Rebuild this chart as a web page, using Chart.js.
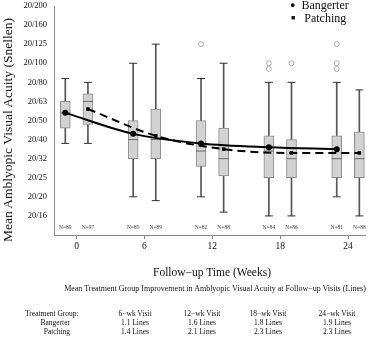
<!DOCTYPE html>
<html>
<head>
<meta charset="utf-8">
<script src="https://cdn.jsdelivr.net/npm/chart.js@4/dist/chart.umd.min.js"></script>
<style>
  body { margin: 0; background: #fff; }
  #wrap { position: relative; width: 371px; height: 337px; font-family: "Liberation Serif", "Times New Roman", serif; color: #111; }
  #wrap div { position: absolute; white-space: nowrap; }
  #table { left: 0; top: 0; }
  .c { transform: translate(-50%, -50%); }
  .r { transform: translate(-100%, -50%); }
  .l { transform: translate(0, -50%); }
  .tbl { font-size: 7.5px; }
</style>
</head>
<body>
<div id="wrap">
  <canvas id="home-chart" width="371" height="337"></canvas>

  <div class="c" style="left:8px;top:130px;font-size:13.5px;transform:translate(-50%,-50%) rotate(-90deg);">Mean Amblyopic Visual Acuity (Snellen)</div>

  <div style="left:290px;top:-2px;font-size:12px;"><span style="font-size:9px;position:relative;top:-1px;">●</span>&nbsp;&nbsp;Bangerter</div>
  <div style="left:291px;top:11px;font-size:12px;"><span style="font-size:7px;position:relative;top:-2px;">■</span>&nbsp;&nbsp;&nbsp;Patching</div>

  <div class="c" style="left:212px;top:272px;font-size:11.5px;">Follow−up Time (Weeks)</div>
  <div class="c" style="left:215px;top:288px;font-size:8px;">Mean Treatment Group Improvement in Amblyopic Visual Acuity at Follow−up Visits (Lines)</div>

  <div id="table"></div>
</div>

<script>
const home_chart = document.getElementById("home-chart");

// weeks of the visits
const weeks = [0, 6, 12, 18, 24];

// y axis: logMAR values and their Snellen labels
const logmarTicks = [-0.1, 0, 0.1, 0.2, 0.3, 0.4, 0.5, 0.6, 0.7, 0.8, 0.9, 1.0];
const snellenLabels = ['20/16', '20/20', '20/25', '20/32', '20/40', '20/50', '20/63', '20/80', '20/100', '20/125', '20/160', '20/200'];

// Bangerter box stats (logMAR)
const bangLow  = [0.28, 0.00, 0.00, -0.10, 0.00];
const bangQ1   = [0.36, 0.20, 0.16, 0.10, 0.10];
const bangMed  = [0.44, 0.30, 0.24, 0.24, 0.20];
const bangQ3   = [0.50, 0.40, 0.40, 0.32, 0.32];
const bangHigh = [0.62, 0.70, 0.62, 0.60, 0.60];
const bangMean = [0.44, 0.33, 0.28, 0.26, 0.25];
const bangN    = [89, 85, 82, 84, 81];
const bangOut  = [[], [], [0.80], [0.70, 0.67], [0.80, 0.70, 0.67]];

// Patching box stats (logMAR)
const patchLow  = [0.28, -0.02, -0.08, -0.10, -0.10];
const patchQ1   = [0.38, 0.20, 0.11, 0.10, 0.10];
const patchMed  = [0.50, 0.30, 0.20, 0.20, 0.20];
const patchQ3   = [0.54, 0.46, 0.36, 0.30, 0.34];
const patchHigh = [0.60, 0.80, 0.70, 0.60, 0.56];
const patchMean = [0.46, 0.32, 0.25, 0.23, 0.23];
const patchN    = [97, 89, 88, 86, 88];
const patchOut  = [[], [], [], [0.70], []];

// table under the chart
const visitLabels = ['6−wk Visit', '12−wk Visit', '18−wk Visit', '24−wk Visit'];
const bangLines  = ['1.1 Lines', '1.6 Lines', '1.8 Lines', '1.9 Lines'];
const patchLines = ['1.4 Lines', '2.1 Lines', '2.3 Lines', '2.3 Lines'];

const shift = 1; // weeks each group is moved off the visit week

function groupSets(name, off, low, q1, med, q3, high, mean, outl, isBang){
    let xs = weeks.map(w => w + off);
    let sets = [];
    sets.push({
        type: 'bar', label: name + ' whisker', order: 4,
        data: xs.map((x, i) => ({x: x, y: [low[i], high[i]]})),
        backgroundColor: '#555', barThickness: 1, grouped: false
    });
    sets.push({
        type: 'scatter', label: name + ' caps', order: 3,
        data: xs.flatMap((x, i) => [{x: x, y: low[i]}, {x: x, y: high[i]}]),
        pointStyle: 'line', pointRadius: 4, borderColor: '#333', borderWidth: 1
    });
    sets.push({
        type: 'bar', label: name + ' box', order: 2,
        data: xs.map((x, i) => ({x: x, y: [q1[i], q3[i]]})),
        backgroundColor: '#d2d2d2', borderColor: '#8a8a8a', borderWidth: 1,
        borderSkipped: false, barThickness: 10, grouped: false
    });
    sets.push({
        type: 'scatter', label: name + ' median', order: 1,
        data: xs.map((x, i) => ({x: x, y: med[i]})),
        pointStyle: 'line', pointRadius: 5, borderColor: '#666', borderWidth: 1
    });
    sets.push({
        type: 'scatter', label: name + ' outliers', order: 1,
        data: xs.flatMap((x, i) => outl[i].map(v => ({x: x, y: v}))),
        pointStyle: 'circle', pointRadius: 2.5, backgroundColor: '#fff', borderColor: '#999', borderWidth: 0.8
    });
    sets.push({
        type: 'line', label: name, order: 0,
        data: xs.map((x, i) => ({x: x, y: mean[i]})),
        borderColor: '#000', backgroundColor: '#000', borderWidth: 2,
        borderDash: isBang ? [] : [8, 5],
        pointStyle: isBang ? 'circle' : 'rect',
        pointRadius: isBang ? 3 : 2.5, pointBorderWidth: 0,
        cubicInterpolationMode: 'monotone', fill: false
    });
    return sets;
}

const nLabels = {
    id: 'nLabels',
    afterDatasetsDraw(chart){
        let ctx = chart.ctx;
        let xs = chart.scales.x;
        let y = chart.chartArea.bottom - 7;
        ctx.save();
        ctx.font = '5.5px "Liberation Serif"';
        ctx.fillStyle = '#444';
        ctx.textAlign = 'center';
        ctx.textBaseline = 'middle';
        for(let i = 0; i < weeks.length; i++){
            ctx.fillText('N=' + bangN[i], xs.getPixelForValue(weeks[i] - shift), y);
            ctx.fillText('N=' + patchN[i], xs.getPixelForValue(weeks[i] + shift), y);
        }
        ctx.restore();
    }
};

let myChart = new Chart(home_chart, {
    data: {
        datasets: [
            ...groupSets('Bangerter', -shift, bangLow, bangQ1, bangMed, bangQ3, bangHigh, bangMean, bangOut, true),
            ...groupSets('Patching', shift, patchLow, patchQ1, patchMed, patchQ3, patchHigh, patchMean, patchOut, false)
        ]
    },
    options: {
        responsive: false,
        animation: false,
        layout: { padding: { left: 0, top: 6, right: 5, bottom: 84 } },
        plugins: { legend: { display: false }, tooltip: { enabled: false } },
        scales: {
            x: {
                type: 'linear', min: -2, max: 25.5, offset: false,
                afterBuildTicks: s => { s.ticks = weeks.map(w => ({value: w})); },
                afterFit: s => { s.height = 18; s.paddingLeft = 0; s.paddingRight = 0; },
                ticks: { color: '#111', font: { family: 'Liberation Serif', size: 9.5 }, padding: 2, maxRotation: 0 },
                grid: { display: true, drawOnChartArea: false, drawTicks: true, tickLength: 4, color: '#888', offset: false },
                border: { color: '#888' }
            },
            y: {
                type: 'linear', min: -0.2, max: 1.0,
                afterBuildTicks: s => { s.ticks = logmarTicks.map(v => ({value: v})); },
                afterFit: s => { s.width = 54; s.paddingTop = 0; s.paddingBottom = 0; },
                ticks: {
                    color: '#111', font: { family: 'Liberation Serif', size: 8.5 }, padding: 7,
                    callback: (v, i) => snellenLabels[i]
                },
                grid: { display: true, drawOnChartArea: false, drawTicks: false, color: '#888' },
                border: { color: '#888' }
            }
        }
    },
    plugins: [nLabels]
});

// table text
let tbl = document.getElementById('table');
function put(txt, x, y, cls){
    let d = document.createElement('div');
    d.className = cls + ' tbl';
    d.style.left = x + 'px';
    d.style.top = y + 'px';
    d.textContent = txt;
    tbl.appendChild(d);
}
put('Treatment Group:', 25, 313, 'l');
put('Bangerter', 70, 322, 'r');
put('Patching', 70, 331, 'r');
const colX = [135, 202, 268, 337];
for(let i = 0; i < colX.length; i++){
    put(visitLabels[i], colX[i], 313, 'c');
    put(bangLines[i], colX[i], 322, 'c');
    put(patchLines[i], colX[i], 331, 'c');
}
</script>
</body>
</html>
